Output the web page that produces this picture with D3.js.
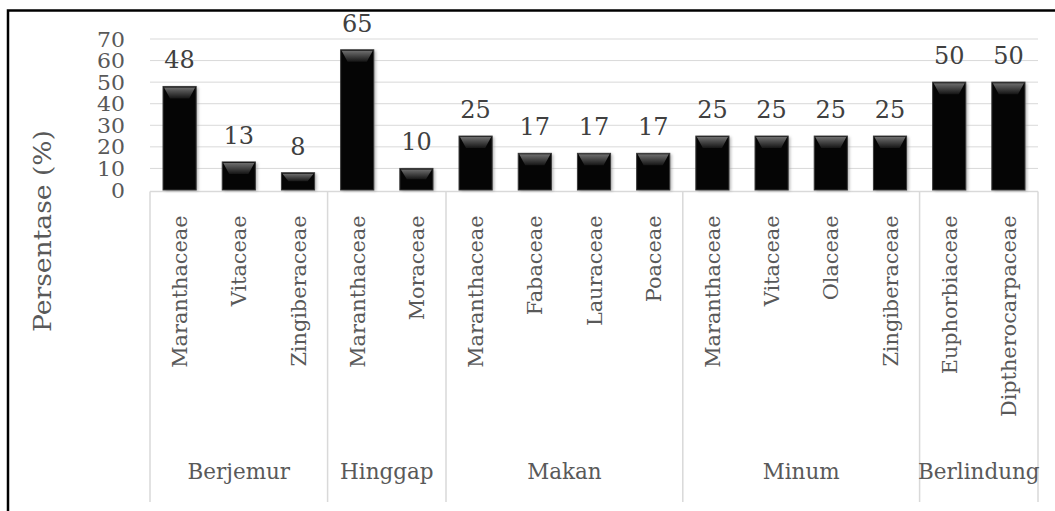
<!DOCTYPE html>
<html>
<head>
<meta charset="utf-8">
<script src="https://cdn.jsdelivr.net/npm/d3@7"></script>
<style>
	body { margin: 0; background: #fff; }
	svg { display: block; }
	.axis path, .axis line { display: none; }
	svg text { font-family: 'DejaVu Serif', serif; }
</style>
</head>
<body>
<div id="chart"></div>
<script>

// Activities (groups) and plant families with percentages
const groupNames = ["Berjemur", "Hinggap", "Makan", "Minum", "Berlindung"];
const families = [
	["Maranthaceae", "Vitaceae", "Zingiberaceae"],
	["Maranthaceae", "Moraceae"],
	["Maranthaceae", "Fabaceae", "Lauraceae", "Poaceae"],
	["Maranthaceae", "Vitaceae", "Olaceae", "Zingiberaceae"],
	["Euphorbiaceae", "Diptherocarpaceae"]
];
const values = [
	[48, 13, 8],
	[65, 10],
	[25, 17, 17, 17],
	[25, 25, 25, 25],
	[50, 50]
];
const yTicks = [0, 10, 20, 30, 40, 50, 60, 70];
const yTitle = "Persentase (%)";

const FONT = "DejaVu Serif, serif";

// flatten into one row per bar
let rows = [];
groupNames.forEach((g, gi) => {
	families[gi].forEach((f, fi) => {
		rows.push({key: gi + "-" + fi, group: g, family: f, value: values[gi][fi]});
	});
});

const W = 1055, H = 511;
const plot = {left: 150, right: 1038, top: 39, bottom: 190};

let svg = d3.select("#chart").append("svg")
	.attr("width", W)
	.attr("height", H)
	.attr("font-family", FONT);

// defs: bevel gradient + shadow
let defs = svg.append("defs");
let grad = defs.append("linearGradient")
	.attr("id", "bevel")
	.attr("x1", 0).attr("y1", 0).attr("x2", 0).attr("y2", 1);
grad.append("stop").attr("offset", "0%").attr("stop-color", "#6e6e6e");
grad.append("stop").attr("offset", "100%").attr("stop-color", "#151515");

let shadow = defs.append("filter").attr("id", "shadow")
	.attr("x", "-30%").attr("y", "-10%").attr("width", "160%").attr("height", "130%");
shadow.append("feGaussianBlur").attr("stdDeviation", 1.6);

// outer frame
svg.append("rect")
	.attr("x", 8).attr("y", 10.5)
	.attr("width", 1070).attr("height", 520)
	.attr("fill", "none")
	.attr("stroke", "#000")
	.attr("stroke-width", 2.5);

// Scales
let x = d3.scaleBand()
	.domain(rows.map(d => d.key))
	.range([plot.left, plot.right])
	.paddingInner(0.44)
	.paddingOuter(0.22);

let y = d3.scaleLinear()
	.domain([0, 70])
	.range([plot.bottom, plot.top]);

// gridlines
svg.append("g")
	.selectAll("line")
	.data(yTicks.slice(1))
	.enter().append("line")
	.attr("x1", plot.left)
	.attr("x2", plot.right)
	.attr("y1", d => y(d))
	.attr("y2", d => y(d))
	.attr("stroke", "#d9d9d9")
	.attr("stroke-width", 1);

// y axis labels (squeezed vertically like the original)
let yAxis = d3.axisLeft(y).tickValues(yTicks).tickSize(0).tickPadding(0);
let yg = svg.append("g")
	.attr("class", "axis y-axis")
	.attr("transform", "translate(125,0)")
	.call(yAxis);
yg.attr("font-family", FONT);
yg.selectAll(".tick text")
	.attr("fill", "#595959")
	.attr("font-size", "22px")
	.attr("x", 0)
	.attr("dy", "0.36em")
	.attr("transform", "scale(1,0.9)");

// y title
svg.append("text")
	.attr("transform", "translate(51,231) rotate(-90)")
	.attr("text-anchor", "middle")
	.attr("fill", "#595959")
	.attr("font-size", "24px")
	.attr("textLength", 202)
	.attr("lengthAdjust", "spacingAndGlyphs")
	.text(yTitle);

// category axis frame
let axisY = 191.5, axisBottom = 502;
svg.append("line")
	.attr("x1", plot.left).attr("x2", plot.right)
	.attr("y1", axisY).attr("y2", axisY)
	.attr("stroke", "#d9d9d9").attr("stroke-width", 1.5);

// group boundaries
let bounds = [];
let idx = 0;
groupNames.forEach((g, gi) => {
	let first = rows[idx].key;
	let last = rows[idx + families[gi].length - 1].key;
	let x0 = x(first) - x.step() * x.paddingInner() / 2;
	let x1 = x(last) + x.bandwidth() + x.step() * x.paddingInner() / 2;
	if (gi == 0) x0 = plot.left;
	if (gi == groupNames.length - 1) x1 = plot.right;
	bounds.push({name: g, x0: x0, x1: x1});
	idx += families[gi].length;
});

let sepX = [plot.left].concat(bounds.map(b => b.x1));
svg.append("g")
	.selectAll("line")
	.data(sepX)
	.enter().append("line")
	.attr("x1", d => d).attr("x2", d => d)
	.attr("y1", axisY).attr("y2", axisBottom)
	.attr("stroke", "#d9d9d9").attr("stroke-width", 1.5);

// family labels (rotated)
let xAxis = d3.axisBottom(x).tickSize(0).tickFormat(k => rows.find(r => r.key == k).family);
let xg = svg.append("g")
	.attr("class", "axis x-axis")
	.attr("transform", "translate(0," + axisY + ")")
	.call(xAxis);
xg.attr("font-family", FONT);
xg.selectAll("text")
	.attr("fill", "#595959")
	.attr("font-size", "20.8px")
	.attr("text-anchor", "end")
	.attr("transform", "rotate(-90)")
	.attr("x", -24)
	.attr("y", 0)
	.attr("dy", "0.36em");

// group labels
svg.append("g")
	.selectAll("text")
	.data(bounds)
	.enter().append("text")
	.attr("x", d => (d.x0 + d.x1) / 2)
	.attr("y", 479)
	.attr("text-anchor", "middle")
	.attr("fill", "#595959")
	.attr("font-size", "21.5px")
	.text(d => d.name);

// bars
let bars = svg.append("g").selectAll("g.bar")
	.data(rows)
	.enter().append("g")
	.attr("class", "bar");

bars.append("rect")
	.attr("x", d => x(d.key) + 2)
	.attr("y", d => y(d.value) + 1)
	.attr("width", x.bandwidth())
	.attr("height", d => y(0) - y(d.value))
	.attr("fill", "#9a9a9a")
	.attr("opacity", 0.7)
	.attr("filter", "url(#shadow)");

bars.append("rect")
	.attr("x", d => x(d.key))
	.attr("y", d => y(d.value))
	.attr("width", x.bandwidth())
	.attr("height", d => y(0) - y(d.value))
	.attr("fill", "#050505")
	.attr("stroke", "#3a3a3a")
	.attr("stroke-width", 1);

bars.append("path")
	.attr("d", d => {
		let bx = x(d.key), bw = x.bandwidth(), top = y(d.value);
		let h = Math.min(12, (y(0) - top) / 2);
		return "M" + (bx + 1) + "," + (top + 1) +
			"L" + (bx + bw - 1) + "," + (top + 1) +
			"L" + (bx + bw - 7) + "," + (top + h) +
			"L" + (bx + 7) + "," + (top + h) + "Z";
	})
	.attr("fill", "url(#bevel)");

// value labels
svg.append("g").selectAll("text")
	.data(rows)
	.enter().append("text")
	.attr("x", d => x(d.key) + x.bandwidth() / 2)
	.attr("y", d => y(d.value) - 18)
	.attr("text-anchor", "middle")
	.attr("fill", "#404040")
	.attr("font-size", "24px")
	.text(d => d.value);

</script>
</body>
</html>
